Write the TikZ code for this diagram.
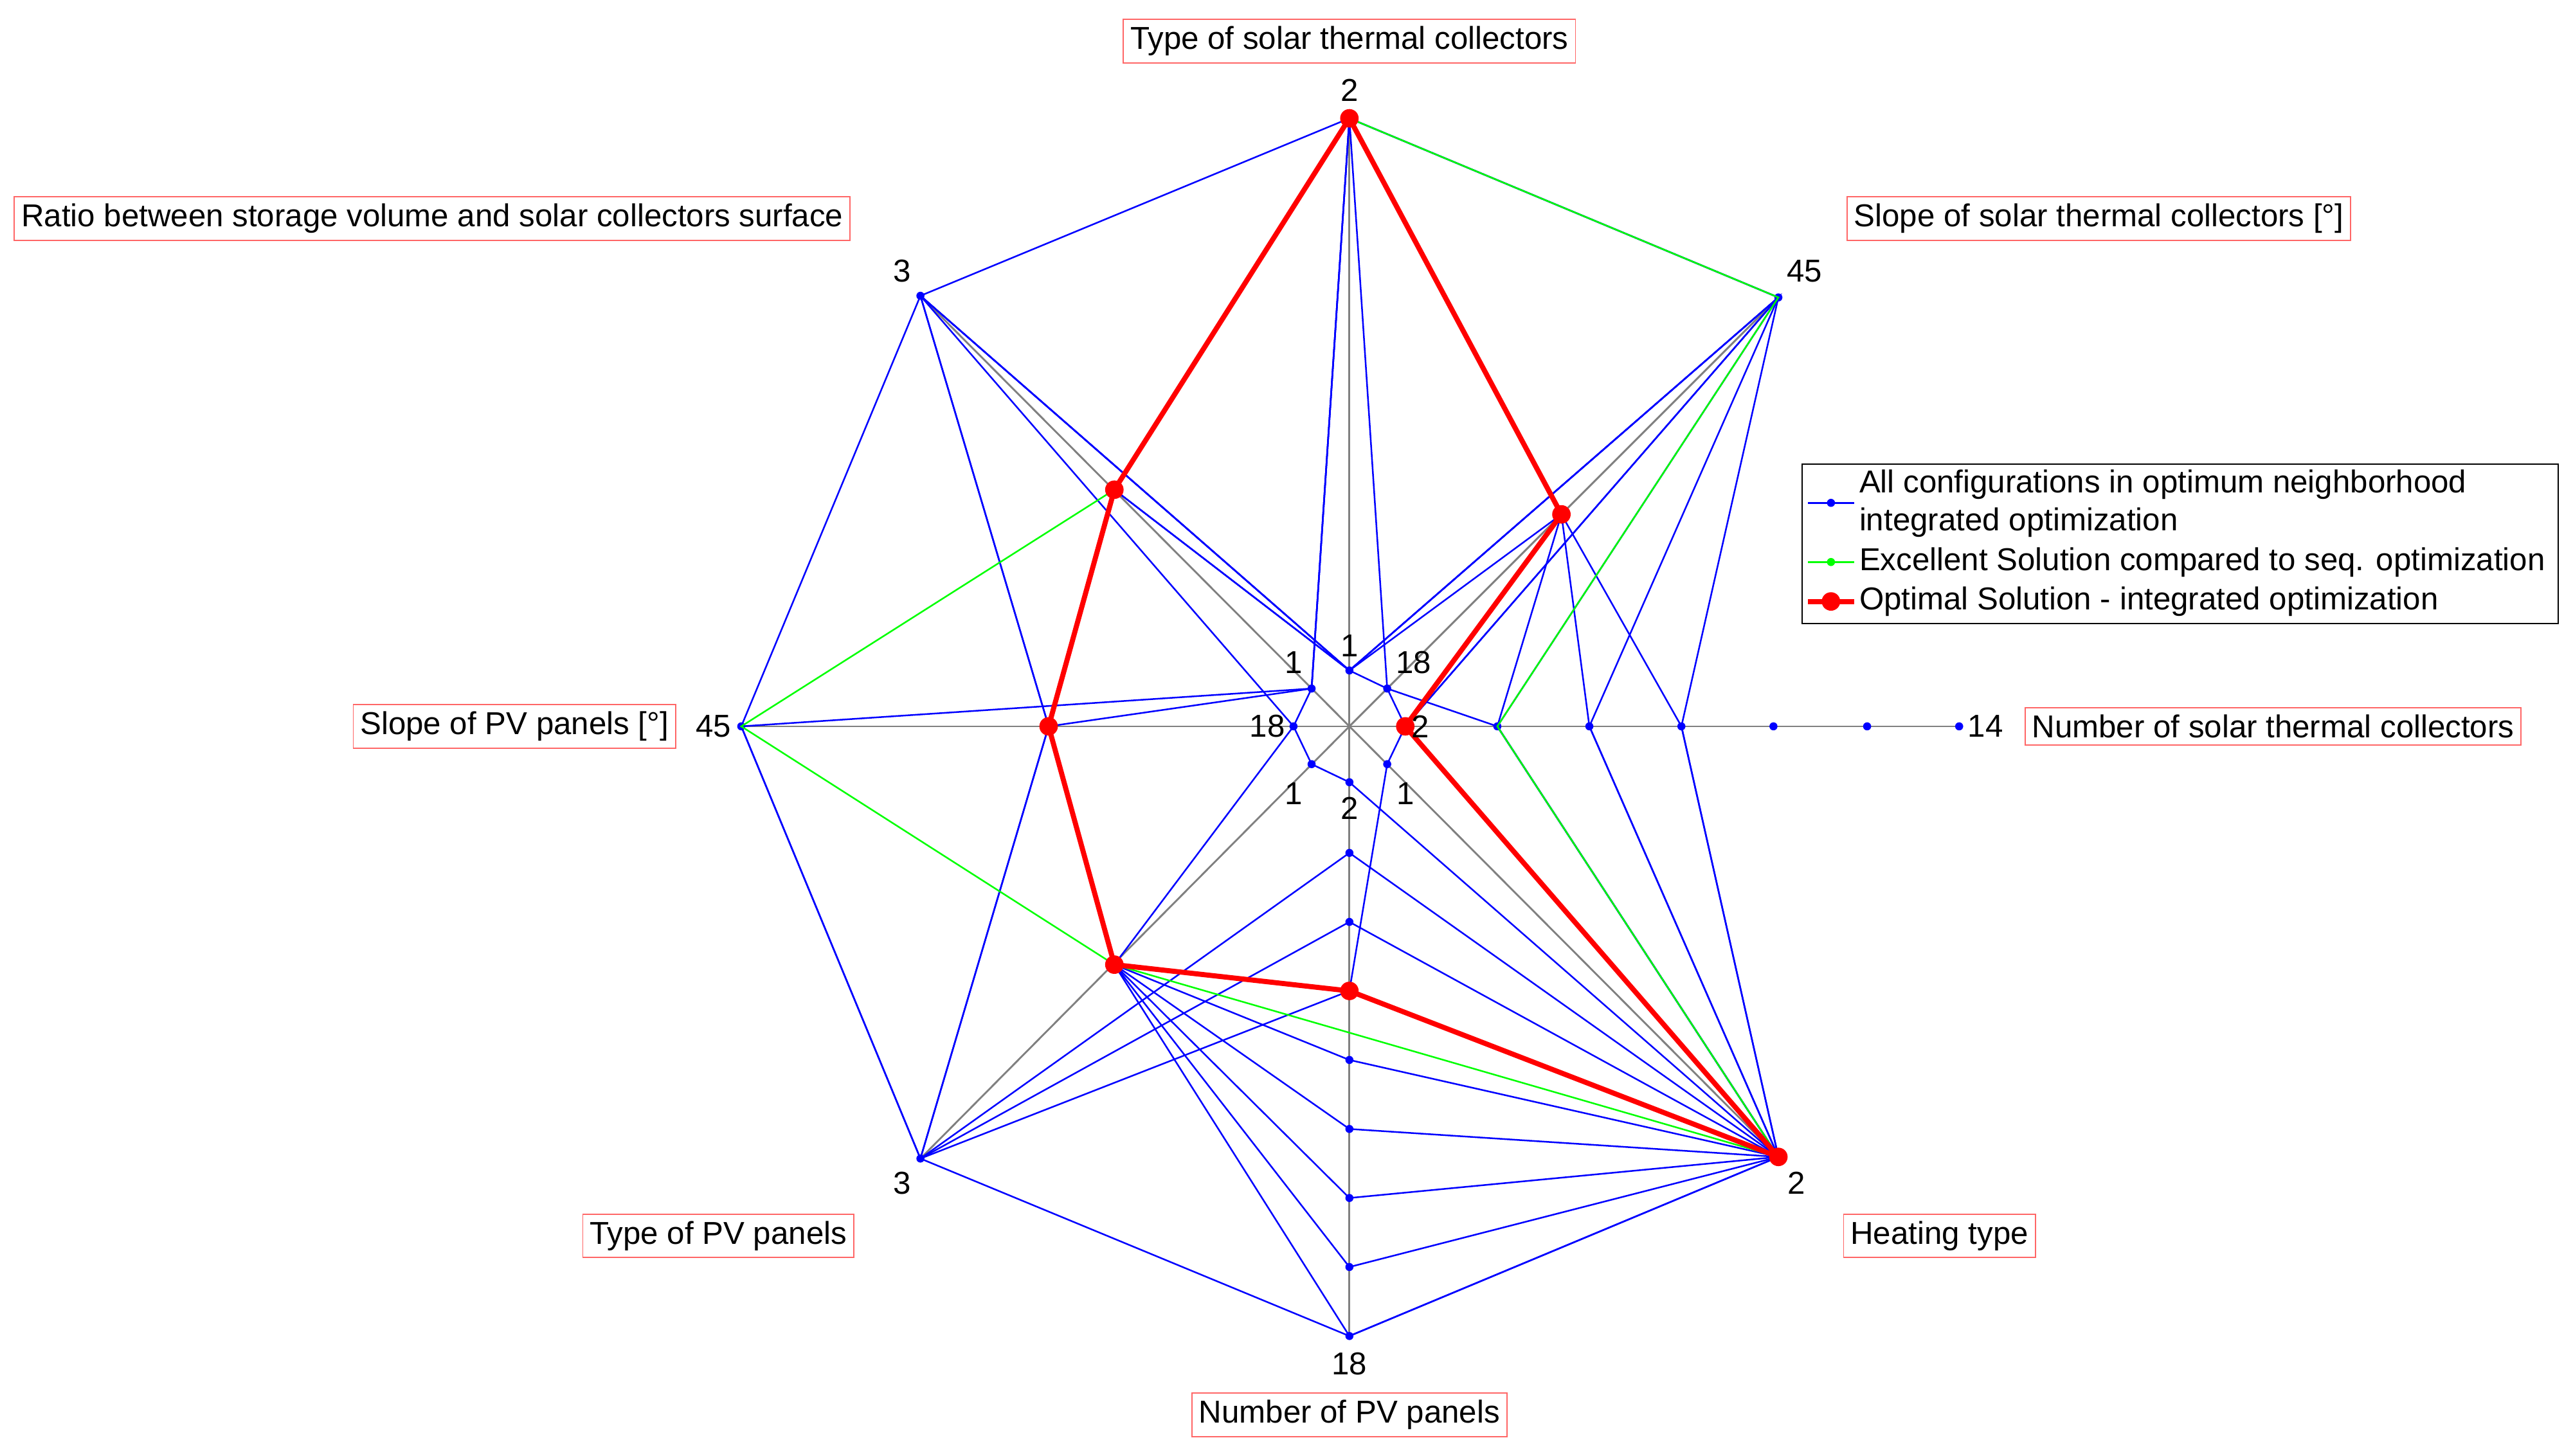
\documentclass[tikz,border=0pt]{standalone}
\usepackage{fontspec}
\setmainfont{Liberation Sans}
\begin{document}
\begin{tikzpicture}[x=0.025cm,y=-0.025cm,
  lab/.style={draw=red!60,line width=0.5pt,fill=white,inner sep=3pt,font=\fontsize{13.7}{15}\selectfont},
  tick/.style={font=\fontsize{13.7}{15}\selectfont,inner sep=1pt},
  ax/.style={gray,line width=0.8pt},
  bl/.style={blue,line width=0.7pt},
  gr/.style={green,line width=0.7pt},
  rd/.style={red,line width=2.2pt,line join=round},
  dot/.style={circle,fill=blue,inner sep=0pt,minimum size=3.5pt},
  rdot/.style={circle,fill=red,inner sep=0pt,minimum size=8pt}]
\useasboundingbox (0,0) rectangle (1560,886);
\coordinate (c) at (821,442);
% axis points
\coordinate (t1) at (821,408); \coordinate (t2) at (821,72);
\coordinate (tr1) at (844,419); \coordinate (tr2) at (950,313); \coordinate (tr3) at (1082,181);
\foreach \v/\x in {2/855,4/911,6/967,8/1023,10/1079,12/1136,14/1192}{\coordinate (r\v) at (\x,442);}
\coordinate (br1) at (844,465); \coordinate (br2) at (1082,704);
\foreach \v/\y in {2/476,4/519,6/561,8/603,10/645,12/687,14/729,16/771,18/813}{\coordinate (b\v) at (821,\y);}
\coordinate (bl1) at (798,465); \coordinate (bl2) at (678,587); \coordinate (bl3) at (560,705);
\coordinate (l1) at (787,442); \coordinate (l2) at (638,442); \coordinate (l3) at (451,442);
\coordinate (tl1) at (798,419); \coordinate (tl2) at (678,298); \coordinate (tl3) at (560,180);
% axes
\foreach \p in {t2,tr3,r14,br2,b18,bl3,l3,tl3}{\draw[ax] (c) -- (\p);}
% blue configurations
\foreach \a/\b/\cc/\d/\e/\f/\g/\h in {
 t2/tr3/r8/br2/b18/bl3/l3/tl3,
 t1/tr3/r6/br2/b16/bl2/l2/tl3,
 t2/tr2/r4/br2/b14/bl2/l2/tl2,
 t1/tr1/r2/br2/b12/bl2/l1/tl3,
 t2/tr2/r6/br2/b10/bl2/l2/tl1,
 t1/tr3/r2/br1/b8/bl3/l2/tl2,
 t2/tr1/r4/br2/b6/bl3/l3/tl1,
 t1/tr2/r8/br2/b4/bl3/l2/tl3,
 t2/tr3/r2/br2/b2/bl1/l1/tl1,
 t1/tr3/r4/br2/b18/bl2/l2/tl2}{
 \draw[bl] (\a)--(\b)--(\cc)--(\d)--(\e)--(\f)--(\g)--(\h)--cycle;}
\foreach \p in {t1,t2,tr1,tr2,tr3,r2,r4,r6,r8,r10,r12,r14,br1,br2,b2,b4,b6,b8,b10,b12,b14,b16,b18,bl1,bl2,bl3,l1,l2,l3,tl1,tl2,tl3}{\node[dot] at (\p) {};}
% green
\draw[gr] (t2)--(tr3)--(r4)--(br2)--(bl2)--(l3)--(tl2)--cycle;
% red
\draw[rd] (t2)--(tr2)--(r2)--(br2)--(b8)--(bl2)--(l2)--(tl2)--cycle;
\foreach \p in {t2,tr2,r2,br2,b8,bl2,l2,tl2}{\node[rdot] at (\p) {};}
% labels
\node[lab] (L1) at (821,25) {Type of solar thermal collectors};
\node[lab] (L2) at (263,133) {Ratio between storage volume and solar collectors surface};
\node[lab] (L3) at (1277,133) {Slope of solar thermal collectors [°]};
\node[lab] (L4) at (313,442) {Slope of PV panels [°]};
\node[lab] (L5) at (1383,442) {Number of solar thermal collectors};
\node[lab] (L6) at (437,752) {Type of PV panels};
\node[lab] (L7) at (1180,752) {Heating type};
\node[lab] (L8) at (821,861) {Number of PV panels};
% ticks
\foreach \t/\x/\y in {2/821/55,3/549/165,45/1098/165,45/434/442,14/1208/442,3/549/720,2/1093/720,18/821/830,
  1/821/393,18/860/403,2/864/442,1/855/483,2/821/492,1/787/483,18/771/442,1/787/403}{\node[tick] at (\x,\y) {\t};}
% legend
\node[draw=black,fill=white,line width=0.6pt,minimum width=460*0.025cm,minimum height=97*0.025cm,anchor=north west,inner sep=0pt] (leg) at (1096,282) {};
\draw[bl] (1100,306)--(1128,306); \node[dot] at (1114,306) {};
\draw[gr] (1100,342)--(1128,342); \node[circle,fill=green,inner sep=0pt,minimum size=3.5pt] at (1114,342) {};
\draw[rd] (1100,366)--(1128,366); \node[rdot] at (1114,366) {};
\begin{scope}[every node/.style={anchor=west,font=\fontsize{13.7}{15}\selectfont,inner sep=0pt}]
\node at (1131,295) {All configurations in optimum neighborhood};
\node at (1131,318) {integrated optimization};
\node at (1131,342) {Excellent Solution compared to seq. optimization};
\node at (1131,366) {Optimal Solution - integrated optimization};
\end{scope}
\end{tikzpicture}
\end{document}
